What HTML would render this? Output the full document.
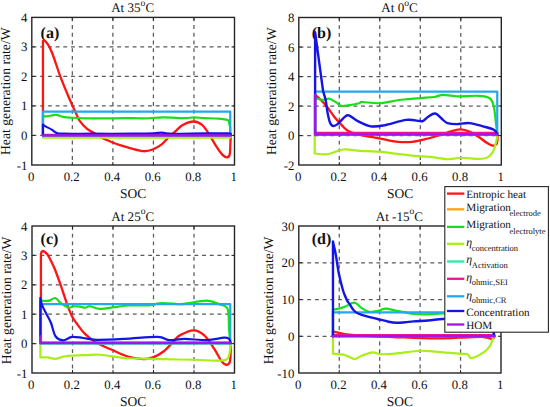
<!DOCTYPE html><html><head><meta charset="utf-8"><style>html,body{margin:0;padding:0;background:#fff;width:550px;height:407px;overflow:hidden}svg{display:block;text-rendering:geometricPrecision}</style></head><body><svg width="550" height="407" viewBox="0 0 550 407" font-family="Liberation Serif" fill="#111">
<rect width="550" height="407" fill="#fff"/>
<g stroke="#5a5a5a" stroke-width="1.25" stroke-dasharray="3.9 3.8"><line x1="72.34" y1="17.40" x2="72.34" y2="165.00"/><line x1="112.88" y1="17.40" x2="112.88" y2="165.00"/><line x1="153.42" y1="17.40" x2="153.42" y2="165.00"/><line x1="193.96" y1="17.40" x2="193.96" y2="165.00"/></g>
<g stroke="#5a5a5a" stroke-width="1.25" stroke-dasharray="3.9 3.8"><line x1="32.50" y1="135.48" x2="234.50" y2="135.48"/><line x1="32.50" y1="105.96" x2="234.50" y2="105.96"/><line x1="32.50" y1="76.44" x2="234.50" y2="76.44"/><line x1="32.50" y1="46.92" x2="234.50" y2="46.92"/></g>
<text x="40.60" y="37.60" font-size="16" font-weight="bold">(a)</text>
<path d="M42.95 135.48L42.95 41.02C43.12 40.89 43.62 40.30 43.96 40.28C44.30 40.25 44.15 39.86 45.00 40.87C45.84 41.88 47.73 43.97 49.05 46.33C50.37 48.69 51.03 50.00 52.90 55.01C54.78 60.02 57.83 69.78 60.30 76.41C62.77 83.04 65.60 89.77 67.70 94.80C69.80 99.83 71.56 103.62 72.91 106.61C74.26 109.60 74.67 110.38 75.81 112.75C76.94 115.12 77.82 118.12 79.70 120.81C81.58 123.50 84.63 126.82 87.10 128.90C89.56 130.98 91.80 131.70 94.50 133.30C97.19 134.89 100.09 136.89 103.29 138.49C106.49 140.09 110.91 141.77 113.69 142.89C116.47 144.01 117.10 144.30 119.97 145.22C122.85 146.14 126.93 147.41 130.92 148.41C134.91 149.41 140.28 151.03 143.89 151.21C147.51 151.40 149.70 150.60 152.61 149.50C155.51 148.40 158.59 146.69 161.33 144.60C164.06 142.51 166.75 139.12 169.03 136.96C171.31 134.80 172.66 133.66 175.01 131.64C177.35 129.63 179.95 126.55 183.10 124.85C186.24 123.16 190.75 121.48 193.90 121.49C197.05 121.50 199.52 122.89 202.01 124.91C204.49 126.93 206.55 130.23 208.80 133.59C211.05 136.96 213.26 141.60 215.51 145.10C217.76 148.61 220.38 152.58 222.30 154.61C224.21 156.64 225.77 157.30 227.00 157.30C228.23 157.30 229.13 156.86 229.70 154.61C230.26 152.36 230.24 147.19 230.41 143.80C230.57 140.42 230.66 135.88 230.71 134.30" fill="none" stroke="#ff1414" stroke-width="2.3" stroke-linejoin="round" stroke-linecap="round"/>
<path d="M42.95 135.48L230.24 135.48" fill="none" stroke="#ffa014" stroke-width="2.0" stroke-linejoin="round" stroke-linecap="round"/>
<path d="M42.95 135.48L42.95 116.00C43.62 116.05 45.48 116.39 47.00 116.29C48.52 116.19 50.48 115.65 52.07 115.41C53.66 115.16 54.50 114.52 56.53 114.82C58.56 115.11 61.60 116.69 64.23 117.18C66.87 117.67 67.61 117.57 72.34 117.77C77.07 117.96 85.85 118.26 92.61 118.36C99.37 118.46 106.12 118.41 112.88 118.36C119.64 118.31 128.08 118.06 133.15 118.06C138.22 118.06 138.22 118.46 143.28 118.36C148.35 118.26 156.80 117.52 163.56 117.47C170.31 117.42 178.76 118.06 183.82 118.06C188.89 118.06 190.58 117.47 193.96 117.47C197.34 117.47 200.04 117.87 204.09 118.06C208.15 118.26 214.35 118.31 218.28 118.65C222.22 119.00 225.91 119.44 227.71 120.13C229.51 120.82 228.71 121.75 229.09 122.79C229.47 123.82 229.79 124.95 229.98 126.33C230.17 127.71 230.20 130.26 230.24 131.05L230.24 135.48" fill="none" stroke="#18e018" stroke-width="2.2" stroke-linejoin="round" stroke-linecap="round"/>
<path d="M42.95 135.48L42.95 137.55L230.24 137.55L230.24 135.48" fill="none" stroke="#aaee18" stroke-width="2.2" stroke-linejoin="round" stroke-linecap="round"/>
<path d="M42.95 135.48L230.24 135.48" fill="none" stroke="#22eeaa" stroke-width="2.2" stroke-linejoin="round" stroke-linecap="round"/>
<path d="M42.95 134.89L230.24 134.89" fill="none" stroke="#ee1299" stroke-width="2.2" stroke-linejoin="round" stroke-linecap="round"/>
<path d="M42.95 135.48L42.95 111.63L230.24 111.63L230.24 135.48" fill="none" stroke="#22a8f0" stroke-width="2.2" stroke-linejoin="round" stroke-linecap="round"/>
<path d="M42.95 135.48L42.95 124.56C43.05 124.66 43.05 124.80 43.56 125.15C44.06 125.49 44.64 125.89 45.99 126.62C47.34 127.36 49.81 128.49 51.66 129.58C53.52 130.66 55.04 132.43 57.14 133.12C59.23 133.81 58.32 133.61 64.23 133.71C70.14 133.81 81.12 133.71 92.61 133.71C104.10 133.71 123.02 133.76 133.15 133.71C143.28 133.66 148.69 133.61 153.42 133.41C158.15 133.22 158.83 132.48 161.53 132.53C164.23 132.58 162.54 133.56 169.64 133.71C176.73 133.86 194.30 133.46 204.09 133.41C213.89 133.36 224.06 133.17 228.42 133.41C232.78 133.66 229.94 134.64 230.24 134.89" fill="none" stroke="#1414e6" stroke-width="2.2" stroke-linejoin="round" stroke-linecap="round"/>
<path d="M42.95 135.48L230.24 135.48" fill="none" stroke="#a014ee" stroke-width="2.4" stroke-linejoin="round" stroke-linecap="round"/>
<path d="M72.34 165.00v-3M72.34 17.40v3M112.88 165.00v-3M112.88 17.40v3M153.42 165.00v-3M153.42 17.40v3M193.96 165.00v-3M193.96 17.40v3M31.80 135.48h3M234.50 135.48h-3M31.80 105.96h3M234.50 105.96h-3M31.80 76.44h3M234.50 76.44h-3M31.80 46.92h3M234.50 46.92h-3" stroke="#262626" stroke-width="1" fill="none"/>
<rect x="31.80" y="17.40" width="202.70" height="147.60" fill="none" stroke="#262626" stroke-width="1.4"/>
<text x="31.10" y="180.60" text-anchor="middle" font-size="12.8">0</text>
<text x="71.64" y="180.60" text-anchor="middle" font-size="12.8">0.2</text>
<text x="112.18" y="180.60" text-anchor="middle" font-size="12.8">0.4</text>
<text x="152.72" y="180.60" text-anchor="middle" font-size="12.8">0.6</text>
<text x="193.26" y="180.60" text-anchor="middle" font-size="12.8">0.8</text>
<text x="233.80" y="180.60" text-anchor="middle" font-size="12.8">1</text>
<text x="27.30" y="169.50" text-anchor="end" font-size="12.8">-1</text>
<text x="27.30" y="139.98" text-anchor="end" font-size="12.8">0</text>
<text x="27.30" y="110.46" text-anchor="end" font-size="12.8">1</text>
<text x="27.30" y="80.94" text-anchor="end" font-size="12.8">2</text>
<text x="27.30" y="51.42" text-anchor="end" font-size="12.8">3</text>
<text x="27.30" y="21.90" text-anchor="end" font-size="12.8">4</text>
<text x="133.15" y="197.50" text-anchor="middle" font-size="13.5">SOC</text>
<text transform="translate(10.30 91.20) rotate(-90)" text-anchor="middle" font-size="13.7">Heat generation rate/W</text>
<text x="132.65" y="12.20" text-anchor="middle" font-size="13.1">At 35<tspan font-size="9.6" dy="-6.0">o</tspan><tspan dy="6.0">C</tspan></text>
<g stroke="#5a5a5a" stroke-width="1.25" stroke-dasharray="3.9 3.8"><line x1="339.30" y1="17.50" x2="339.30" y2="165.00"/><line x1="379.80" y1="17.50" x2="379.80" y2="165.00"/><line x1="420.30" y1="17.50" x2="420.30" y2="165.00"/><line x1="460.80" y1="17.50" x2="460.80" y2="165.00"/></g>
<g stroke="#5a5a5a" stroke-width="1.25" stroke-dasharray="3.9 3.8"><line x1="299.50" y1="135.50" x2="501.30" y2="135.50"/><line x1="299.50" y1="106.00" x2="501.30" y2="106.00"/><line x1="299.50" y1="76.50" x2="501.30" y2="76.50"/><line x1="299.50" y1="47.00" x2="501.30" y2="47.00"/></g>
<text x="311.70" y="38.00" font-size="16" font-weight="bold">(b)</text>
<path d="M315.10 135.50L315.10 94.64C316.03 95.50 318.59 97.67 320.67 99.80C322.75 101.94 325.26 104.62 327.56 107.47C329.85 110.33 331.88 113.77 334.44 116.92C337.00 120.06 340.55 123.97 342.94 126.36C345.34 128.74 345.61 129.70 348.82 131.22C352.02 132.75 358.20 134.52 362.18 135.50C366.17 136.48 369.03 136.46 372.71 137.12C376.39 137.79 380.00 138.70 384.25 139.48C388.51 140.27 393.57 141.45 398.23 141.84C402.89 142.24 407.68 142.28 412.20 141.84C416.72 141.40 420.98 140.24 425.36 139.19C429.75 138.13 434.10 136.83 438.52 135.50C442.95 134.17 448.18 132.23 451.89 131.22C455.60 130.21 457.86 129.38 460.80 129.45C463.74 129.53 466.57 130.44 469.51 131.67C472.44 132.89 475.48 134.93 478.42 136.83C481.35 138.72 484.73 141.55 487.12 143.02C489.52 144.50 491.24 145.46 492.80 145.68C494.35 145.90 495.66 145.31 496.44 144.35C497.22 143.39 497.25 141.40 497.45 139.93C497.65 138.45 497.62 136.24 497.65 135.50" fill="none" stroke="#ff1414" stroke-width="2.3" stroke-linejoin="round" stroke-linecap="round"/>
<path d="M315.10 134.62L497.45 134.62" fill="none" stroke="#ffa014" stroke-width="2.0" stroke-linejoin="round" stroke-linecap="round"/>
<path d="M315.10 135.50L315.10 98.03C316.30 98.33 319.94 99.71 322.29 99.80C324.64 99.90 326.88 98.21 329.18 98.62C331.47 99.04 334.07 101.11 336.06 102.31C338.05 103.52 339.13 105.34 341.12 105.85C343.11 106.37 344.97 105.85 348.01 105.41C351.05 104.97 356.99 103.76 359.35 103.20C361.71 102.63 358.77 102.02 362.18 102.02C365.59 102.02 373.93 103.49 379.80 103.20C385.67 102.90 392.76 100.91 397.42 100.25C402.08 99.58 403.83 99.58 407.75 99.22C411.66 98.85 416.49 98.40 420.91 98.03C425.33 97.67 430.59 97.54 434.27 97.00C437.95 96.46 439.30 94.91 442.98 94.79C446.66 94.67 450.44 96.09 456.35 96.27C462.25 96.44 472.92 95.53 478.42 95.82C483.92 96.12 486.79 96.27 489.35 98.03C491.92 99.80 492.69 102.09 493.81 106.44C494.92 110.79 495.46 119.55 496.03 124.14C496.61 128.74 497.05 132.38 497.25 134.03" fill="none" stroke="#18e018" stroke-width="2.2" stroke-linejoin="round" stroke-linecap="round"/>
<path d="M314.70 135.50L314.70 153.50C316.81 153.62 322.54 154.90 327.35 154.23C332.16 153.57 338.12 150.08 343.55 149.51C348.99 148.95 353.91 150.47 359.96 150.84C366.00 151.21 373.56 151.21 379.80 151.72C386.04 152.24 392.02 153.30 397.42 153.94C402.82 154.58 406.06 154.99 412.20 155.56C418.34 156.13 428.40 156.72 434.27 157.33C440.15 157.94 443.01 159.17 447.44 159.25C451.86 159.32 455.64 157.82 460.80 157.77C465.96 157.72 474.03 158.98 478.42 158.95C482.81 158.93 484.73 158.76 487.12 157.62C489.52 156.49 491.31 154.72 492.80 152.17C494.28 149.61 495.26 145.06 496.03 142.28C496.81 139.51 497.22 136.63 497.45 135.50" fill="none" stroke="#aaee18" stroke-width="2.2" stroke-linejoin="round" stroke-linecap="round"/>
<path d="M315.10 134.03L497.45 134.03" fill="none" stroke="#22eeaa" stroke-width="2.2" stroke-linejoin="round" stroke-linecap="round"/>
<path d="M315.10 132.99L497.45 132.99" fill="none" stroke="#ee1299" stroke-width="2.4" stroke-linejoin="round" stroke-linecap="round"/>
<path d="M315.00 135.50L315.00 91.54L497.25 91.54L497.25 135.50" fill="none" stroke="#22a8f0" stroke-width="2.2" stroke-linejoin="round" stroke-linecap="round"/>
<path d="M315.10 134.03L315.10 32.25L323.10 91.25C323.54 92.80 324.99 96.98 325.73 100.54C326.48 104.11 326.81 108.90 327.56 112.64C328.30 116.37 329.21 120.73 330.19 122.96C331.17 125.20 332.14 125.91 333.43 126.06C334.71 126.21 335.99 125.37 337.88 123.85C339.77 122.32 342.95 118.32 344.77 116.92C346.59 115.51 346.66 114.75 348.82 115.44C350.98 116.13 354.05 119.23 357.73 121.05C361.41 122.86 366.47 125.64 370.89 126.36C375.31 127.07 378.35 126.40 384.25 125.32C390.16 124.24 400.42 120.58 406.33 119.86C412.23 119.15 416.89 120.87 419.69 121.05C422.49 121.22 421.65 121.66 423.13 120.90C424.62 120.14 426.58 117.70 428.60 116.47C430.63 115.24 432.89 112.96 435.29 113.52C437.68 114.09 440.96 118.27 442.98 119.86C445.00 121.46 445.21 122.40 447.44 123.11C449.66 123.82 452.67 124.14 456.35 124.14C460.02 124.14 465.09 122.74 469.51 123.11C473.93 123.48 478.82 125.25 482.87 126.36C486.92 127.46 491.41 128.47 493.81 129.75C496.20 131.03 496.68 133.31 497.25 134.03" fill="none" stroke="#1414e6" stroke-width="2.4" stroke-linejoin="round" stroke-linecap="round"/>
<path d="M315.10 94.64L315.10 134.62L497.45 134.62" fill="none" stroke="#a014ee" stroke-width="2.4" stroke-linejoin="round" stroke-linecap="round"/>
<path d="M339.30 165.00v-3M339.30 17.50v3M379.80 165.00v-3M379.80 17.50v3M420.30 165.00v-3M420.30 17.50v3M460.80 165.00v-3M460.80 17.50v3M298.80 135.50h3M501.30 135.50h-3M298.80 106.00h3M501.30 106.00h-3M298.80 76.50h3M501.30 76.50h-3M298.80 47.00h3M501.30 47.00h-3" stroke="#262626" stroke-width="1" fill="none"/>
<rect x="298.80" y="17.50" width="202.50" height="147.50" fill="none" stroke="#262626" stroke-width="1.4"/>
<text x="298.10" y="180.60" text-anchor="middle" font-size="12.8">0</text>
<text x="338.60" y="180.60" text-anchor="middle" font-size="12.8">0.2</text>
<text x="379.10" y="180.60" text-anchor="middle" font-size="12.8">0.4</text>
<text x="419.60" y="180.60" text-anchor="middle" font-size="12.8">0.6</text>
<text x="460.10" y="180.60" text-anchor="middle" font-size="12.8">0.8</text>
<text x="500.60" y="180.60" text-anchor="middle" font-size="12.8">1</text>
<text x="294.30" y="169.50" text-anchor="end" font-size="12.8">-2</text>
<text x="294.30" y="140.00" text-anchor="end" font-size="12.8">0</text>
<text x="294.30" y="110.50" text-anchor="end" font-size="12.8">2</text>
<text x="294.30" y="81.00" text-anchor="end" font-size="12.8">4</text>
<text x="294.30" y="51.50" text-anchor="end" font-size="12.8">6</text>
<text x="294.30" y="22.00" text-anchor="end" font-size="12.8">8</text>
<text x="400.05" y="197.50" text-anchor="middle" font-size="13.5">SOC</text>
<text transform="translate(276.40 91.25) rotate(-90)" text-anchor="middle" font-size="13.7">Heat generation rate/W</text>
<text x="399.55" y="12.30" text-anchor="middle" font-size="13.1">At 0<tspan font-size="9.6" dy="-6.0">o</tspan><tspan dy="6.0">C</tspan></text>
<g stroke="#5a5a5a" stroke-width="1.25" stroke-dasharray="3.9 3.8"><line x1="72.50" y1="226.00" x2="72.50" y2="373.00"/><line x1="113.00" y1="226.00" x2="113.00" y2="373.00"/><line x1="153.50" y1="226.00" x2="153.50" y2="373.00"/><line x1="194.00" y1="226.00" x2="194.00" y2="373.00"/></g>
<g stroke="#5a5a5a" stroke-width="1.25" stroke-dasharray="3.9 3.8"><line x1="32.70" y1="343.60" x2="234.50" y2="343.60"/><line x1="32.70" y1="314.20" x2="234.50" y2="314.20"/><line x1="32.70" y1="284.80" x2="234.50" y2="284.80"/><line x1="32.70" y1="255.40" x2="234.50" y2="255.40"/></g>
<text x="40.60" y="244.20" font-size="16" font-weight="bold">(c)</text>
<path d="M40.91 343.60L40.91 253.93C41.04 253.59 41.29 252.34 41.72 251.87C42.15 251.41 42.54 250.70 43.50 251.14C44.46 251.58 46.21 252.83 47.49 254.52C48.77 256.21 49.97 258.83 51.20 261.28C52.43 263.73 53.36 265.40 54.88 269.22C56.41 273.04 58.22 278.14 60.35 284.21C62.48 290.29 65.68 300.28 67.64 305.67C69.60 311.06 70.64 313.66 72.09 316.55C73.55 319.44 74.15 320.08 76.35 323.02C78.54 325.96 81.92 330.91 85.26 334.19C88.60 337.48 91.87 340.07 96.39 342.72C100.92 345.36 107.30 347.81 112.39 350.07C117.49 352.32 121.88 354.72 126.97 356.24C132.07 357.76 138.65 358.99 142.97 359.18C147.29 359.38 149.42 358.74 152.89 357.42C156.37 356.10 160.35 353.94 163.83 351.24C167.30 348.55 171.08 343.89 173.75 341.25C176.42 338.60 176.55 337.18 179.82 335.37C183.10 333.56 189.31 330.37 193.39 330.37C197.48 330.37 200.85 332.28 204.33 335.37C207.80 338.45 211.38 344.58 214.25 348.89C217.12 353.20 219.52 358.59 221.54 361.24C223.57 363.89 225.02 364.67 226.40 364.77C227.78 364.87 229.13 363.89 229.84 361.83C230.55 359.77 230.48 355.41 230.65 352.42C230.82 349.43 230.82 345.31 230.85 343.89" fill="none" stroke="#ff1414" stroke-width="2.3" stroke-linejoin="round" stroke-linecap="round"/>
<path d="M40.40 343.01L230.65 343.01" fill="none" stroke="#ffa014" stroke-width="2.0" stroke-linejoin="round" stroke-linecap="round"/>
<path d="M40.40 343.60L40.40 300.68C40.69 300.68 40.99 300.63 42.12 300.68C43.26 300.73 45.87 301.02 47.19 300.97C48.50 300.92 48.67 300.87 50.02 300.38C51.37 299.89 53.57 297.64 55.29 298.03C57.01 298.42 58.76 301.46 60.35 302.73C61.94 304.01 63.32 304.84 64.81 305.67C66.29 306.51 67.67 307.63 69.26 307.73C70.85 307.83 72.36 306.41 74.32 306.26C76.28 306.12 79.15 306.61 81.00 306.85C82.86 307.10 84.01 307.83 85.46 307.73C86.91 307.63 87.28 306.07 89.71 306.26C92.14 306.46 95.89 308.76 100.04 308.91C104.19 309.06 109.73 307.73 114.62 307.14C119.51 306.56 123.67 305.67 129.40 305.38C135.14 305.09 143.71 305.77 149.04 305.38C154.38 304.99 156.23 303.22 161.40 303.03C166.56 302.83 175.74 304.16 180.03 304.20C184.31 304.25 182.63 303.91 187.12 303.32C191.60 302.73 201.63 300.53 206.96 300.68C212.29 300.82 215.67 302.83 219.11 304.20C222.55 305.58 225.96 304.74 227.61 308.91C229.27 313.07 228.59 323.56 229.03 329.19C229.47 334.83 230.05 340.46 230.25 342.72" fill="none" stroke="#18e018" stroke-width="2.2" stroke-linejoin="round" stroke-linecap="round"/>
<path d="M40.40 343.60L40.40 357.42C41.64 357.42 45.28 357.17 47.80 357.42C50.31 357.66 52.55 359.08 55.49 358.89C58.43 358.69 60.45 356.88 65.41 356.24C70.37 355.61 79.49 355.31 85.26 355.07C91.03 354.82 93.49 354.28 100.04 354.77C106.59 355.26 117.19 357.37 124.54 358.01C131.90 358.64 138.04 358.40 144.19 358.59C150.33 358.79 152.99 358.99 161.40 359.18C169.80 359.38 184.99 359.52 194.61 359.77C204.23 360.01 213.61 360.85 219.11 360.65C224.61 360.46 225.76 360.55 227.61 358.59C229.47 356.63 229.71 351.39 230.25 348.89C230.79 346.39 230.75 344.48 230.85 343.60" fill="none" stroke="#aaee18" stroke-width="2.2" stroke-linejoin="round" stroke-linecap="round"/>
<path d="M40.40 343.60L230.65 343.60" fill="none" stroke="#22eeaa" stroke-width="2.2" stroke-linejoin="round" stroke-linecap="round"/>
<path d="M40.40 342.72L230.65 342.72" fill="none" stroke="#ee1299" stroke-width="2.2" stroke-linejoin="round" stroke-linecap="round"/>
<path d="M40.40 343.60L40.40 304.20L230.25 304.20L230.25 343.60" fill="none" stroke="#22a8f0" stroke-width="2.2" stroke-linejoin="round" stroke-linecap="round"/>
<path d="M40.40 336.25L40.40 297.74C40.69 299.01 41.10 302.64 42.12 305.38C43.15 308.12 45.09 311.26 46.58 314.20C48.06 317.14 49.55 319.34 51.03 323.02C52.52 326.69 53.47 333.36 55.49 336.25C57.52 339.14 60.42 340.27 63.19 340.37C65.95 340.46 68.79 337.23 72.09 336.84C75.40 336.45 78.98 337.52 83.03 338.01C87.08 338.50 89.48 339.63 96.39 339.78C103.31 339.93 114.32 339.39 124.54 338.90C134.77 338.41 150.36 336.64 157.75 336.84C165.14 337.03 164.40 339.73 168.89 340.07C173.38 340.42 178.34 338.90 184.69 338.90C191.03 338.90 200.41 340.27 206.96 340.07C213.51 339.88 220.29 337.92 223.97 337.72C227.65 337.52 227.92 338.06 229.03 338.90C230.15 339.73 230.38 342.08 230.65 342.72" fill="none" stroke="#1414e6" stroke-width="2.2" stroke-linejoin="round" stroke-linecap="round"/>
<path d="M40.40 336.25L40.40 343.01L230.65 343.01" fill="none" stroke="#a014ee" stroke-width="2.4" stroke-linejoin="round" stroke-linecap="round"/>
<path d="M72.50 373.00v-3M72.50 226.00v3M113.00 373.00v-3M113.00 226.00v3M153.50 373.00v-3M153.50 226.00v3M194.00 373.00v-3M194.00 226.00v3M32.00 343.60h3M234.50 343.60h-3M32.00 314.20h3M234.50 314.20h-3M32.00 284.80h3M234.50 284.80h-3M32.00 255.40h3M234.50 255.40h-3" stroke="#262626" stroke-width="1" fill="none"/>
<rect x="32.00" y="226.00" width="202.50" height="147.00" fill="none" stroke="#262626" stroke-width="1.4"/>
<text x="31.30" y="388.60" text-anchor="middle" font-size="12.8">0</text>
<text x="71.80" y="388.60" text-anchor="middle" font-size="12.8">0.2</text>
<text x="112.30" y="388.60" text-anchor="middle" font-size="12.8">0.4</text>
<text x="152.80" y="388.60" text-anchor="middle" font-size="12.8">0.6</text>
<text x="193.30" y="388.60" text-anchor="middle" font-size="12.8">0.8</text>
<text x="233.80" y="388.60" text-anchor="middle" font-size="12.8">1</text>
<text x="27.50" y="377.50" text-anchor="end" font-size="12.8">-1</text>
<text x="27.50" y="348.10" text-anchor="end" font-size="12.8">0</text>
<text x="27.50" y="318.70" text-anchor="end" font-size="12.8">1</text>
<text x="27.50" y="289.30" text-anchor="end" font-size="12.8">2</text>
<text x="27.50" y="259.90" text-anchor="end" font-size="12.8">3</text>
<text x="27.50" y="230.50" text-anchor="end" font-size="12.8">4</text>
<text x="133.25" y="405.50" text-anchor="middle" font-size="13.5">SOC</text>
<text transform="translate(10.50 300.30) rotate(-90)" text-anchor="middle" font-size="13.7">Heat generation rate/W</text>
<text x="132.75" y="221.10" text-anchor="middle" font-size="13.1">At 25<tspan font-size="9.6" dy="-6.8">o</tspan><tspan dy="6.8">C</tspan></text>
<g stroke="#5a5a5a" stroke-width="1.25" stroke-dasharray="3.9 3.8"><line x1="339.24" y1="226.00" x2="339.24" y2="373.00"/><line x1="379.68" y1="226.00" x2="379.68" y2="373.00"/><line x1="420.12" y1="226.00" x2="420.12" y2="373.00"/><line x1="460.56" y1="226.00" x2="460.56" y2="373.00"/></g>
<g stroke="#5a5a5a" stroke-width="1.25" stroke-dasharray="3.9 3.8"><line x1="299.50" y1="336.25" x2="501.00" y2="336.25"/><line x1="299.50" y1="299.50" x2="501.00" y2="299.50"/><line x1="299.50" y1="262.75" x2="501.00" y2="262.75"/></g>
<text x="311.70" y="244.20" font-size="16" font-weight="bold">(d)</text>
<path d="M332.97 336.25L332.97 331.47C333.26 331.53 332.75 331.41 334.69 331.84C336.63 332.27 340.47 333.43 344.60 334.05C348.73 334.66 351.29 335.02 359.46 335.51C367.63 336.00 381.10 336.50 393.63 336.99C406.17 337.48 423.76 338.33 434.68 338.45C445.60 338.58 450.99 337.97 459.14 337.72C467.30 337.48 478.08 336.77 483.61 336.99C489.14 337.20 490.45 339.19 492.31 339.01C494.16 338.82 494.33 336.40 494.73 335.88" fill="none" stroke="#ff1414" stroke-width="2.3" stroke-linejoin="round" stroke-linecap="round"/>
<path d="M332.97 336.25L494.33 336.25" fill="none" stroke="#ffa014" stroke-width="2.0" stroke-linejoin="round" stroke-linecap="round"/>
<path d="M332.97 336.25L332.97 309.42C333.26 309.42 332.75 309.85 334.69 309.42C336.63 308.99 341.31 307.99 344.60 306.85C347.88 305.71 351.54 302.38 354.41 302.59C357.27 302.80 359.29 306.55 361.79 308.10C364.28 309.65 366.65 311.42 369.37 311.88C372.08 312.35 375.37 311.43 378.06 310.89C380.76 310.36 382.81 308.79 385.54 308.69C388.27 308.59 391.21 309.69 394.44 310.30C397.68 310.92 401.75 311.74 404.96 312.36C408.16 312.98 409.77 313.68 413.65 314.02C417.53 314.35 423.36 314.51 428.21 314.38C433.06 314.26 437.37 313.50 442.77 313.28C448.16 313.07 454.22 313.07 460.56 313.10C466.90 313.13 475.56 313.28 480.78 313.46C486.00 313.65 489.78 312.24 491.90 314.20C494.02 316.16 493.18 321.73 493.52 325.23C493.86 328.72 493.86 333.49 493.92 335.15" fill="none" stroke="#18e018" stroke-width="2.2" stroke-linejoin="round" stroke-linecap="round"/>
<path d="M332.97 336.25L332.97 353.71C334.91 353.92 341.03 354.10 344.60 354.99C348.17 355.88 351.54 358.91 354.41 359.04C357.27 359.16 358.72 356.83 361.79 355.73C364.85 354.62 369.54 352.67 372.81 352.42C376.07 352.18 377.10 354.13 381.40 354.26C385.70 354.38 392.15 353.74 398.59 353.15C405.02 352.57 414.00 351.01 420.02 350.77C426.03 350.52 428.16 351.19 434.68 351.69C441.20 352.18 453.65 353.28 459.14 353.71C464.64 354.13 465.58 353.52 467.64 354.26C469.69 354.99 468.82 358.42 471.48 358.12C474.14 357.81 480.54 354.41 483.61 352.42C486.68 350.43 488.33 348.50 489.88 346.17C491.43 343.85 492.10 340.26 492.91 338.45C493.72 336.65 494.43 335.85 494.73 335.33" fill="none" stroke="#aaee18" stroke-width="2.2" stroke-linejoin="round" stroke-linecap="round"/>
<path d="M332.97 335.70L494.33 335.70" fill="none" stroke="#22eeaa" stroke-width="2.2" stroke-linejoin="round" stroke-linecap="round"/>
<path d="M332.97 335.15L494.33 335.15" fill="none" stroke="#ee1299" stroke-width="2.4" stroke-linejoin="round" stroke-linecap="round"/>
<path d="M332.97 336.25L332.97 312.36L493.52 312.36L493.52 336.25" fill="none" stroke="#22a8f0" stroke-width="2.2" stroke-linejoin="round" stroke-linecap="round"/>
<path d="M332.97 336.25L332.97 241.44C333.17 242.35 333.71 244.74 334.19 246.95C334.66 249.15 335.03 250.23 335.80 254.66C336.58 259.10 337.69 267.80 338.84 273.55C339.98 279.31 341.65 285.50 342.68 289.21C343.71 292.92 344.19 293.80 345.00 295.82C345.81 297.85 346.81 300.03 347.53 301.34C348.25 302.65 348.32 302.19 349.35 303.69C350.38 305.18 352.25 308.67 353.70 310.30C355.15 311.94 355.87 312.50 358.04 313.50C360.22 314.50 363.47 315.38 366.74 316.29C370.01 317.21 374.02 318.11 377.66 319.01C381.30 319.91 385.48 321.07 388.58 321.70C391.68 322.33 393.53 322.70 396.26 322.80C398.99 322.90 402.06 322.52 404.96 322.28C407.85 322.05 409.77 321.67 413.65 321.37C417.53 321.06 423.36 320.85 428.21 320.45C433.06 320.05 437.37 319.35 442.77 318.98C448.16 318.61 454.22 318.43 460.56 318.24C466.90 318.06 475.56 317.88 480.78 317.88C486.00 317.88 489.78 316.41 491.90 318.24C494.02 320.08 493.18 326.08 493.52 328.90C493.86 331.72 493.86 334.11 493.92 335.15" fill="none" stroke="#1414e6" stroke-width="2.4" stroke-linejoin="round" stroke-linecap="round"/>
<path d="M332.97 336.25L494.33 336.25" fill="none" stroke="#a014ee" stroke-width="2.4" stroke-linejoin="round" stroke-linecap="round"/>
<path d="M339.24 373.00v-3M339.24 226.00v3M379.68 373.00v-3M379.68 226.00v3M420.12 373.00v-3M420.12 226.00v3M460.56 373.00v-3M460.56 226.00v3M298.80 336.25h3M501.00 336.25h-3M298.80 299.50h3M501.00 299.50h-3M298.80 262.75h3M501.00 262.75h-3" stroke="#262626" stroke-width="1" fill="none"/>
<rect x="298.80" y="226.00" width="202.20" height="147.00" fill="none" stroke="#262626" stroke-width="1.4"/>
<text x="298.10" y="388.60" text-anchor="middle" font-size="12.8">0</text>
<text x="338.54" y="388.60" text-anchor="middle" font-size="12.8">0.2</text>
<text x="378.98" y="388.60" text-anchor="middle" font-size="12.8">0.4</text>
<text x="419.42" y="388.60" text-anchor="middle" font-size="12.8">0.6</text>
<text x="459.86" y="388.60" text-anchor="middle" font-size="12.8">0.8</text>
<text x="500.30" y="388.60" text-anchor="middle" font-size="12.8">1</text>
<text x="294.30" y="377.50" text-anchor="end" font-size="12.8">-10</text>
<text x="294.30" y="340.75" text-anchor="end" font-size="12.8">0</text>
<text x="294.30" y="304.00" text-anchor="end" font-size="12.8">10</text>
<text x="294.30" y="267.25" text-anchor="end" font-size="12.8">20</text>
<text x="294.30" y="230.50" text-anchor="end" font-size="12.8">30</text>
<text x="399.90" y="405.50" text-anchor="middle" font-size="13.5">SOC</text>
<text transform="translate(272.50 300.30) rotate(-90)" text-anchor="middle" font-size="13.7">Heat generation rate/W</text>
<text x="399.40" y="221.10" text-anchor="middle" font-size="13.1">At -15<tspan font-size="9.6" dy="-6.8">o</tspan><tspan dy="6.8">C</tspan></text>
<rect x="444.8" y="186.6" width="103.60" height="145.60" fill="#fff" stroke="#262626" stroke-width="1.1"/>
<line x1="447" y1="193.6" x2="464.3" y2="193.6" stroke="#ff1414" stroke-width="2.3"/>
<text x="466.2" y="198.00" font-size="11.2">Entropic heat</text>
<line x1="447" y1="209.3" x2="464.3" y2="209.3" stroke="#ffa014" stroke-width="2.3"/>
<text x="466.2" y="211.10" font-size="11.2">Migration</text>
<text x="509.6" y="216.40" font-size="8.5">electrode</text>
<line x1="447" y1="226.9" x2="464.3" y2="226.9" stroke="#18e018" stroke-width="2.3"/>
<text x="466.2" y="227.80" font-size="11.2">Migration</text>
<text x="509.6" y="233.50" font-size="8.5">electrolyte</text>
<line x1="447" y1="243.8" x2="464.3" y2="243.8" stroke="#aaee18" stroke-width="2.3"/>
<text x="466.2" y="246.00" font-size="11.8" font-style="italic">&#951;</text>
<text x="471.8" y="250.60" font-size="8.5">concentration</text>
<line x1="447" y1="261.5" x2="464.3" y2="261.5" stroke="#22eeaa" stroke-width="2.3"/>
<text x="466.2" y="263.30" font-size="11.8" font-style="italic">&#951;</text>
<text x="471.8" y="267.80" font-size="8.5">Activation</text>
<line x1="447" y1="278.8" x2="464.3" y2="278.8" stroke="#ee1299" stroke-width="2.3"/>
<text x="466.2" y="281.00" font-size="11.8" font-style="italic">&#951;</text>
<text x="471.8" y="285.00" font-size="8.5">ohmic,SEI</text>
<line x1="447" y1="296.3" x2="464.3" y2="296.3" stroke="#22a8f0" stroke-width="2.3"/>
<text x="466.2" y="298.60" font-size="11.8" font-style="italic">&#951;</text>
<text x="471.8" y="302.50" font-size="8.5">ohmic,CR</text>
<line x1="447" y1="311.0" x2="464.3" y2="311.0" stroke="#1414e6" stroke-width="2.3"/>
<text x="466.2" y="315.80" font-size="11.2">Concentration</text>
<line x1="447" y1="324.5" x2="464.3" y2="324.5" stroke="#a014ee" stroke-width="2.3"/>
<text x="466.2" y="328.50" font-size="11.2">HOM</text>
</svg></body></html>
